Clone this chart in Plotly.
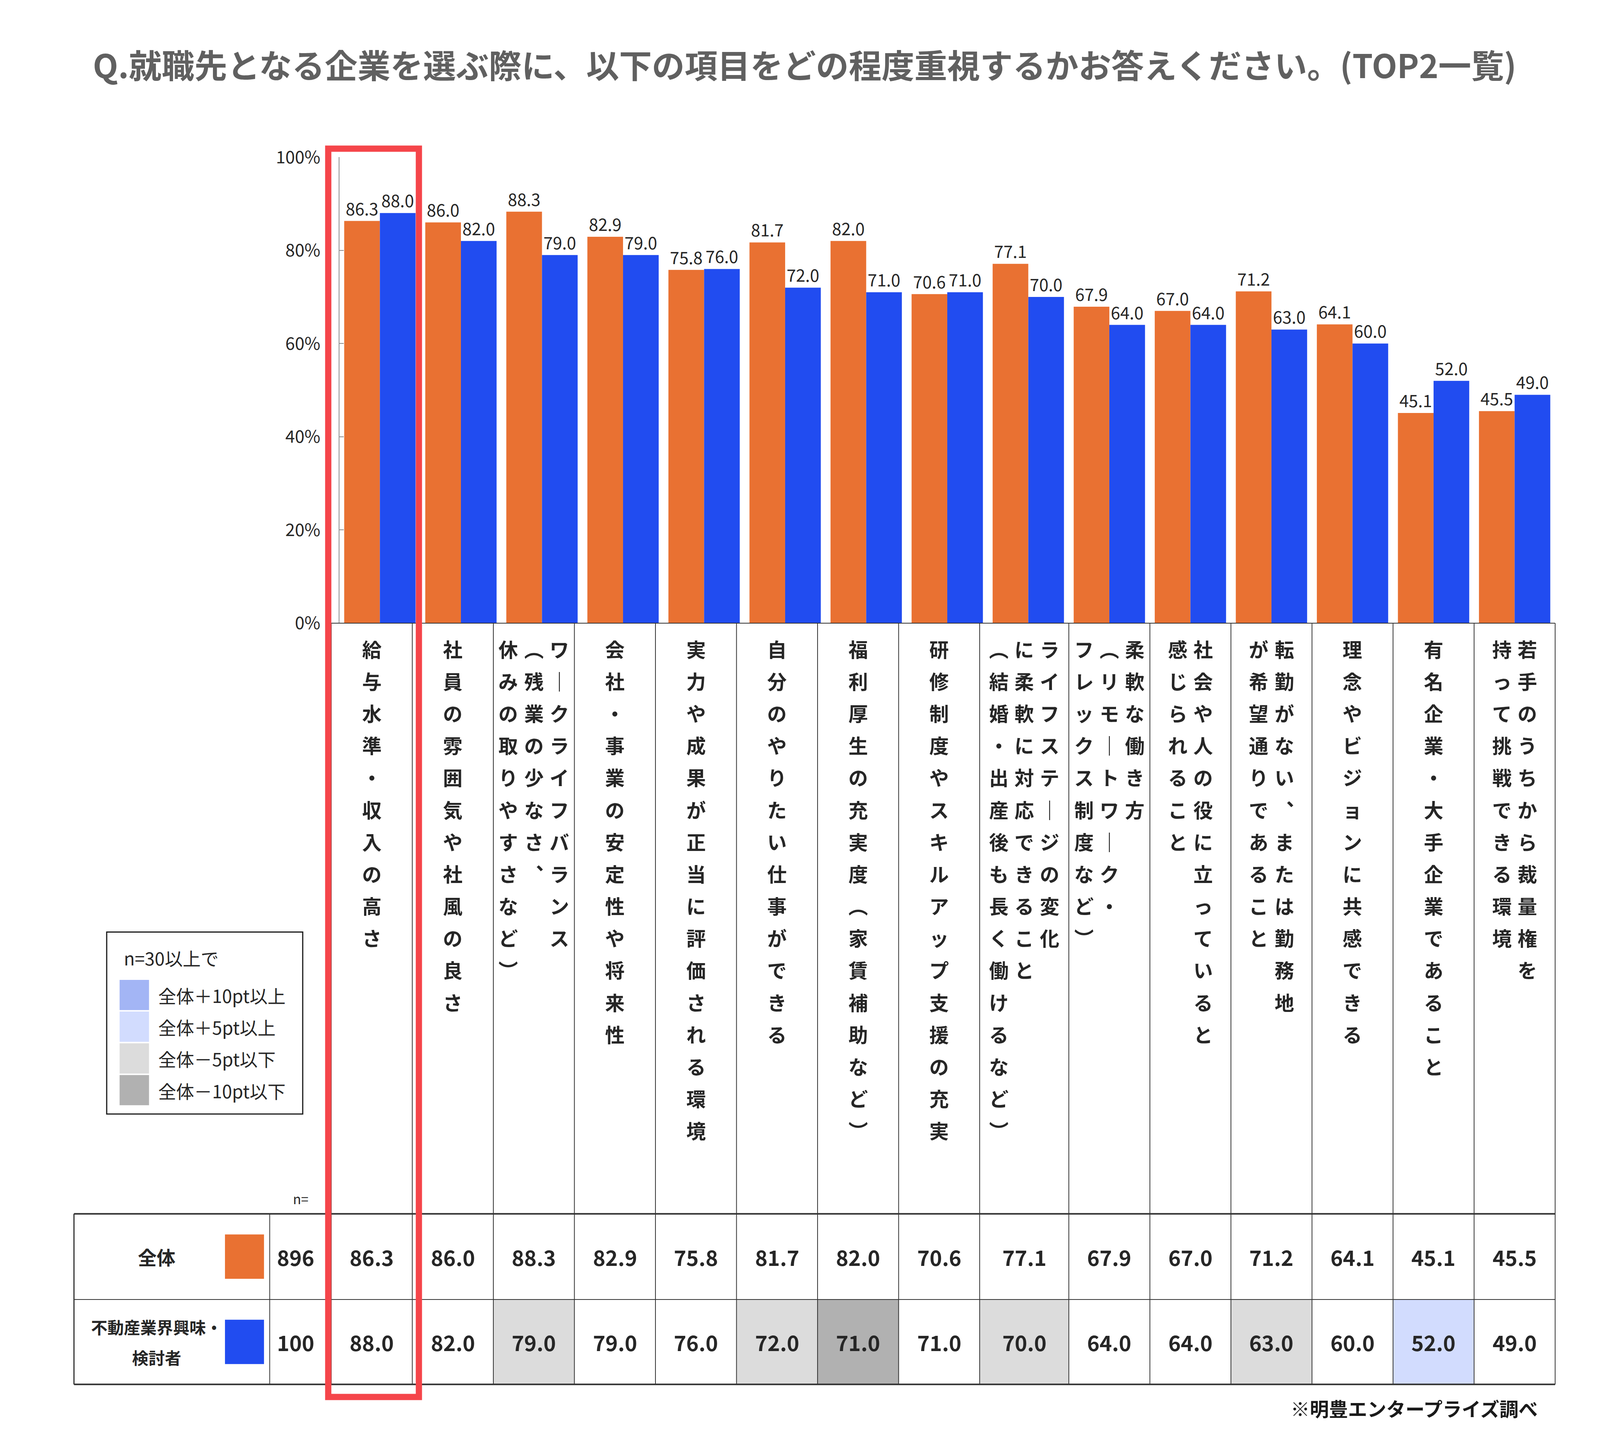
import plotly.graph_objects as go

# ---- data -------------------------------------------------------------
# category labels, written as vertical columns (right-most column first)
categories = [
    ["給与水準・収入の高さ"],
    ["社員の雰囲気や社風の良さ"],
    ["ワークライフバランス", "（残業の少なさ、", "休みの取りやすさなど）"],
    ["会社・事業の安定性や将来性"],
    ["実力や成果が正当に評価される環境"],
    ["自分のやりたい仕事ができる"],
    ["福利厚生の充実度（家賃補助など）"],
    ["研修制度やスキルアップ支援の充実"],
    ["ライフステージの変化", "に柔軟に対応できること", "（結婚・出産後も長く働けるなど）"],
    ["柔軟な働き方", "（リモートワーク・", "フレックス制度など）"],
    ["社会や人の役に立っていると", "感じられること"],
    ["転勤がない、または勤務地", "が希望通りであること"],
    ["理念やビジョンに共感できる"],
    ["有名企業・大手企業であること"],
    ["若手のうちから裁量権を", "持って挑戦できる環境"],
]
overall = [86.3, 86.0, 88.3, 82.9, 75.8, 81.7, 82.0, 70.6, 77.1, 67.9, 67.0, 71.2, 64.1, 45.1, 45.5]
interest = [88.0, 82.0, 79.0, 79.0, 76.0, 72.0, 71.0, 71.0, 70.0, 64.0, 64.0, 63.0, 60.0, 52.0, 49.0]
sample_sizes = [896, 100]
row_names = [["全体"], ["不動産業界興味・", "検討者"]]
y_ticks = [0, 20, 40, 60, 80, 100]
legend_title = "n=30以上で"
legend_labels = ["全体＋10pt以上", "全体＋5pt以上", "全体－5pt以下", "全体－10pt以下"]
title_text = "Q.就職先となる企業を選ぶ際に、以下の項目をどの程度重視するかお答えください。(TOP2一覧)"
source_note = "※明豊エンタープライズ調べ"

# ---- style ------------------------------------------------------------
ORANGE = "#E97132"
BLUE = "#214CF0"
UP10 = "#A3B5F5"
UP5 = "#D2DCFE"
DOWN5 = "#DCDCDC"
DOWN10 = "#B1B1B1"
RED = "#F5454A"
FONT = "Noto Sans CJK JP"
TEXT = "#262626"
GRID = "#333333"

W, H = 4080, 3708              # figure size in the page
RW, RH = 5309, 3724            # reference picture size, used for the layout grid
PX0, UNIT = 1255, 270          # reference pixel centre of first category, pixels per category
X2_LO, X2_HI = -3.9, 14.6      # extent of the helper axis used for the table


def fx(px):
    return px / RW


def fy(px):
    return 1 - px / RH


def ux(px):
    return (px - PX0) / UNIT


def diff_fill(a, b):
    d = b - a
    if d >= 10:
        return UP10
    if d >= 5:
        return UP5
    if d <= -10:
        return DOWN10
    if d <= -5:
        return DOWN5
    return None


VERT = str.maketrans({"ー": "｜", "（": "︵", "）": "︶", "、": "︑"})

n_cat = len(overall)
idx = list(range(n_cat))
# column edges of the label area / table (one wider column for the 9th item)
edges = [i - 0.6 for i in range(9)] + [i + 0.5 for i in range(8, n_cat)]
centers = [(edges[i] + edges[i + 1]) / 2 for i in range(n_cat)]

fig = go.Figure()
for vals, color in [(overall, ORANGE), (interest, BLUE)]:
    fig.add_bar(
        x=idx, y=vals,
        marker=dict(color=color, line_width=0),
        text=[f"{v:.1f}" for v in vals],
        textposition="outside", constraintext="none", textangle=0,
        outsidetextfont=dict(family=FONT, size=43, color=TEXT),
        cliponaxis=False, showlegend=False, hoverinfo="skip",
    )
# helper trace so the table axis exists
fig.add_scatter(x=[None], y=[None], xaxis="x2", yaxis="y", showlegend=False, hoverinfo="skip")

shapes = []
annotations = []


def note(x, y, text, size, xref="paper", xanchor="center", bold=False, color=TEXT):
    annotations.append(dict(
        xref=xref, yref="paper", x=x, y=y, text=text, showarrow=False,
        xanchor=xanchor, yanchor="middle",
        font=dict(family=FONT, size=size, color=color, weight="bold" if bold else "normal")))


# ---- table cell fills ---------------------------------------------------
TOP_LBL, TOP_TBL, MID_TBL, BOT_TBL = 1585, 3130, 3354, 3576
for i in range(n_cat):
    c = diff_fill(overall[i], interest[i])
    if c:
        shapes.append(dict(type="rect", xref="x2", yref="paper", x0=edges[i], x1=edges[i + 1],
                           y0=fy(MID_TBL), y1=fy(BOT_TBL), fillcolor=c, line_width=0, layer="below"))


# ---- grid lines ---------------------------------------------------------
def vline(x, y0, y1, w=2):
    shapes.append(dict(type="line", xref="x2", yref="paper", x0=x, x1=x, y0=fy(y0), y1=fy(y1),
                       line=dict(color=GRID, width=w)))


def hline(y, x0, x1, w=2):
    shapes.append(dict(type="line", xref="x2", yref="paper", x0=x0, x1=x1, y0=fy(y), y1=fy(y),
                       line=dict(color=GRID, width=w)))


for e in edges:
    vline(e, TOP_LBL, BOT_TBL)
vline(ux(236), TOP_TBL, BOT_TBL, 3)
vline(ux(888), TOP_TBL, BOT_TBL)
hline(TOP_LBL, edges[0], edges[-1])
hline(TOP_TBL, ux(236), edges[-1], 4)
hline(MID_TBL, ux(236), edges[-1])
hline(BOT_TBL, ux(236), edges[-1], 4)

# ---- vertical category labels -------------------------------------------
for i, cols in enumerate(categories):
    for j, col in enumerate(cols):
        x = centers[i] + ((len(cols) - 1) / 2 - j) * 0.315
        for k, ch in enumerate(col.translate(VERT)):
            note(x, fy(1651 + k * 84), ch, 50, xref="x2", bold=True)

# ---- table text ---------------------------------------------------------
row_y = [3242, 3465]
for r, vals in enumerate([overall, interest]):
    for i, v in enumerate(vals):
        note(centers[i], fy(row_y[r]), f"{v:.1f}", 54, xref="x2", bold=True)
    note(ux(975), fy(row_y[r]), str(sample_sizes[r]), 54, xref="x2", bold=True)
    lines = row_names[r]
    for j, line in enumerate(lines):
        yy = row_y[r] + (j - (len(lines) - 1) / 2) * 79
        note(fx(512), fy(yy), line, 48 if len(lines) == 1 else 42, bold=True)
    shapes.append(dict(type="rect", xref="paper", yref="paper", x0=fx(739), x1=fx(869),
                       y0=fy(row_y[r] - 58), y1=fy(row_y[r] + 58),
                       fillcolor=[ORANGE, BLUE][r], line_width=0))

note(ux(992), fy(3090), "n=", 34, xref="x2")

# ---- colour key ---------------------------------------------------------
shapes.append(dict(type="rect", xref="paper", yref="paper", x0=fx(345), x1=fx(998),
                   y0=fy(2393), y1=fy(2869), line=dict(color="#1a1a1a", width=3)))
note(fx(399), fy(2460), legend_title, 46, xanchor="left")
for i, (lab, c) in enumerate(zip(legend_labels, [UP10, UP5, DOWN5, DOWN10])):
    top = 2518 + i * 83
    shapes.append(dict(type="rect", xref="paper", yref="paper", x0=fx(388), x1=fx(486),
                       y0=fy(top), y1=fy(top + 79), fillcolor=c, line_width=0))
    note(fx(514), fy(top + 40), lab, 46, xanchor="left")

# ---- highlight box and source note ---------------------------------------
shapes.append(dict(type="rect", xref="paper", yref="paper", x0=fx(1083), x1=fx(1385),
                   y0=fy(344), y1=fy(3609), line=dict(color=RED, width=16), layer="above"))
note(fx(5115), fy(3638), source_note, 49, xanchor="right", bold=True, color="#1a1a1a")

fig.update_layout(
    width=W, height=H, autosize=False,
    margin=dict(l=0, r=0, t=0, b=0),
    paper_bgcolor="white", plot_bgcolor="rgba(0,0,0,0)",
    barmode="group", bargap=0.12, bargroupgap=0,
    title=dict(text=title_text, x=fx(2670), y=fy(163), xanchor="center", yanchor="middle",
               font=dict(family=FONT, size=84, color="#606060", weight="bold")),
    xaxis=dict(domain=[fx(PX0 - 0.5 * UNIT), fx(PX0 + (n_cat - 0.5) * UNIT)],
               range=[-0.5, n_cat - 0.5], visible=False),
    xaxis2=dict(domain=[fx(PX0 + X2_LO * UNIT), fx(PX0 + X2_HI * UNIT)],
                range=[X2_LO, X2_HI], visible=False, anchor="y"),
    yaxis=dict(domain=[fy(TOP_LBL), fy(366)], range=[0, 100],
               tickvals=y_ticks, ticktext=[f"{v}%" for v in y_ticks],
               showline=True, linecolor="#8c8c8c", linewidth=2, ticks="inside", ticklen=11,
               tickcolor="#8c8c8c", tickwidth=2, showgrid=False, zeroline=False,
               ticklabelstandoff=38, tickfont=dict(family=FONT, size=44, color=TEXT)),
    shapes=shapes,
    annotations=annotations,
)

fig.write_html("out.html")
